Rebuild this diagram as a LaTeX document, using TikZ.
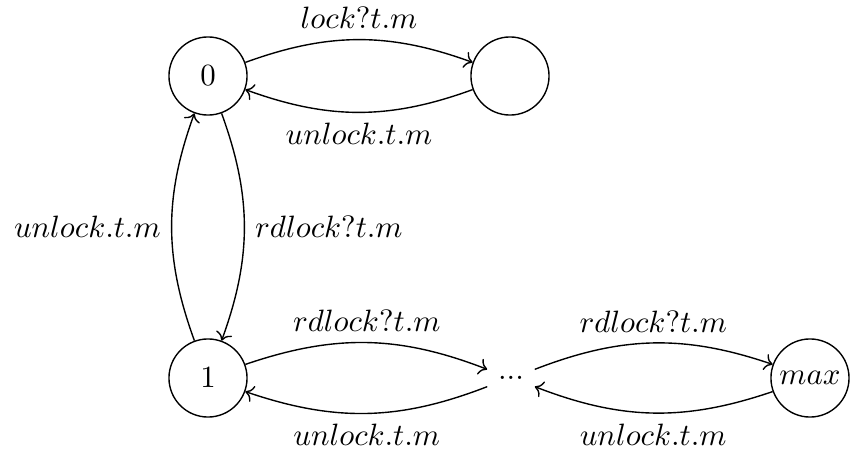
\documentclass[tikz,border=0pt]{standalone}
\usetikzlibrary{arrows.meta}
\begin{document}
\begin{tikzpicture}[x=0.324pt, y=-0.324pt,
  state/.style={draw, circle, minimum size=25.3pt, inner sep=1pt, line width=0.45pt},
  trans/.style={->, line width=0.45pt, bend left=20},
  lbl/.style={auto, inner sep=3.3pt}]
  \useasboundingbox (0,0) rectangle (850,454);

  % states
  \node[state] (z)   at (208,76)  {$0$};
  \node[state] (w)   at (510,76)  {};
  \node[state] (one) at (208,378) {$1$};
  \node        (dts) at (511,378) {...};
  \node[state] (mx)  at (810,378) {$max$};

  % write lock
  \draw[trans] (z) to node[lbl] {$lock?t.m$} (w);
  \draw[trans] (w) to node[lbl] {$unlock.t.m$} (z);

  % first read lock
  \draw[trans] (z) to node[lbl] {$rdlock?t.m$} (one);
  \draw[trans] (one) to node[lbl] {$unlock.t.m$} (z);

  % further read locks
  \draw[trans] (one) to node[lbl] {$rdlock?t.m$} (dts);
  \draw[trans] (dts) to node[lbl] {$unlock.t.m$} (one);
  \draw[trans] (dts) to node[lbl] {$rdlock?t.m$} (mx);
  \draw[trans] (mx) to node[lbl] {$unlock.t.m$} (dts);
\end{tikzpicture}
\end{document}
